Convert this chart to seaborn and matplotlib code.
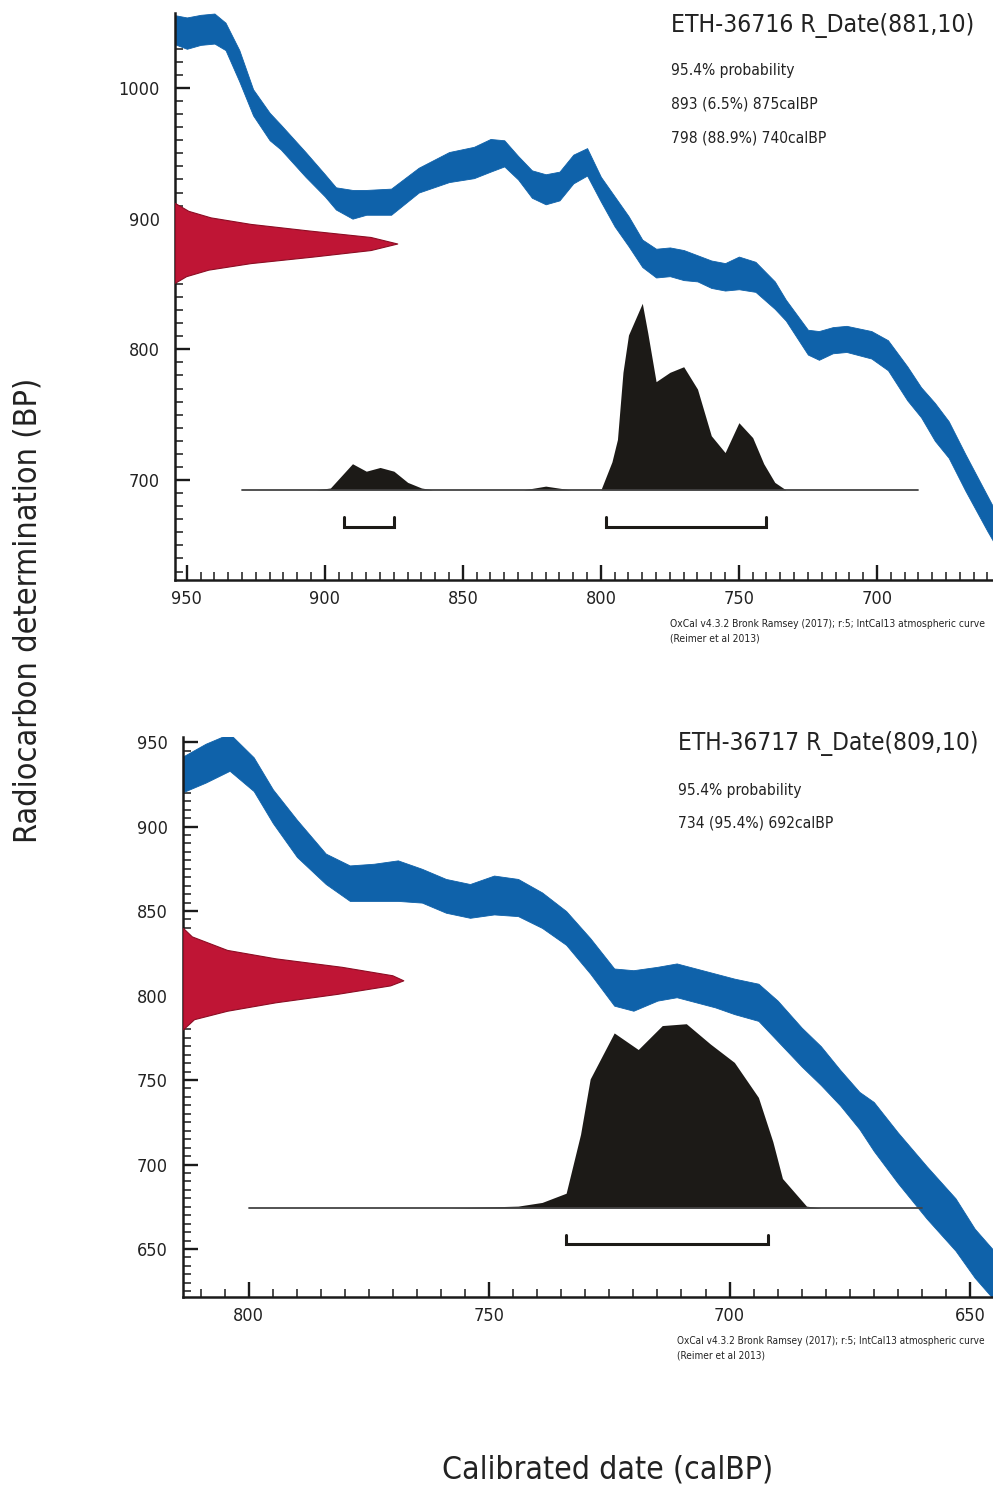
import numpy as np
import pandas as pd
import seaborn as sns
from matplotlib import pyplot as plt
from matplotlib import font_manager
from matplotlib.ticker import MultipleLocator

# ---- ETH-36716 (top panel) ----
top_cal = [955, 950, 945, 940, 936, 931, 926, 920, 916, 907,
           900, 896, 890, 885, 876, 866, 855, 846, 840, 835,
           830, 825, 820, 815, 810, 805, 800, 795, 790, 785,
           780, 775, 770, 765, 760, 755, 750, 744, 737, 733,
           725, 721, 716, 711, 702, 696, 689, 684, 679, 674,
           668, 660, 657]
top_upper = [1056, 1054, 1056, 1057, 1050, 1029, 999, 981, 972, 951,
             934, 924, 922, 922, 923, 939, 951, 955, 961, 960,
             948, 937, 934, 936, 949, 954, 932, 917, 902, 884,
             877, 878, 876, 872, 868, 866, 871, 867, 852, 838,
             815, 814, 817, 818, 814, 807, 787, 771, 759, 745,
             720, 688, 676]
top_lower = [1034, 1030, 1033, 1034, 1029, 1005, 979, 960, 953, 932,
             917, 907, 900, 903, 903, 920, 928, 931, 936, 940,
             930, 916, 911, 914, 927, 933, 913, 894, 879, 863,
             855, 856, 853, 852, 847, 845, 846, 844, 831, 822,
             796, 792, 797, 798, 793, 784, 761, 748, 730, 717,
             692, 661, 650]

top_r_bp = [912, 906, 901, 896, 891, 886, 881, 876, 871, 866, 861, 856, 851]
top_r_rel = [0, 6, 16, 34, 60, 88, 100, 88, 62, 34, 15, 5, 0]

top_p_cal = [930, 903, 898, 890, 885, 880, 875, 870, 865, 861,
             828, 820, 811, 800, 796, 794, 792, 790, 785, 783,
             780, 775, 770, 765, 760, 755, 750, 745, 741, 737,
             733, 685]
top_p_rel = [0, 0, 1, 14, 10, 12, 10, 4, 1, 0,
             0, 2, 0, 0, 15, 27, 63, 83, 100, 84,
             58, 63, 66, 54, 29, 20, 36, 28, 14, 4,
             0, 0]

top_ranges = [(893, 875), (798, 740)]
top_title = "ETH-36716 R_Date(881,10)"
top_info = ["95.4% probability", "893 (6.5%) 875calBP", "798 (88.9%) 740calBP"]

# ---- ETH-36717 (bottom panel) ----
bot_cal = [814, 809, 804, 799, 795, 790, 784, 779, 774, 769,
           764, 759, 754, 749, 744, 739, 734, 729, 724, 720,
           715, 711, 707, 703, 699, 694, 690, 685, 681, 677,
           673, 670, 665, 659, 653, 649, 645]
bot_upper = [941, 949, 955, 941, 922, 904, 884, 877, 878, 880,
             875, 869, 866, 871, 869, 861, 850, 834, 816, 815,
             817, 819, 816, 813, 810, 807, 797, 781, 770, 756,
             743, 737, 719, 699, 680, 662, 649]
bot_lower = [920, 926, 933, 921, 902, 882, 866, 856, 856, 856,
             855, 849, 846, 848, 847, 840, 830, 813, 794, 791,
             797, 799, 796, 793, 789, 785, 773, 758, 747, 735,
             721, 708, 689, 668, 649, 633, 620]

bot_r_bp = [840, 835, 827, 822, 817, 812, 809, 806, 801, 796, 791, 786, 780]
bot_r_rel = [0, 4, 20, 42, 72, 95, 100, 94, 70, 42, 20, 5, 0]

bot_p_cal = [800, 758, 744, 739, 734, 731, 729, 724, 719, 714,
             709, 704, 699, 694, 691, 689, 684, 681, 660]
bot_p_rel = [0, 0, 1, 3, 8, 40, 70, 95, 86, 99,
             100, 89, 79, 60, 36, 16, 1, 0, 0]

bot_ranges = [(734, 692)]
bot_title = "ETH-36717 R_Date(809,10)"
bot_info = ["95.4% probability", "734 (95.4%) 692calBP"]

credit = ["OxCal v4.3.2 Bronk Ramsey (2017); r:5; IntCal13 atmospheric curve",
          "(Reimer et al 2013)"]

BLUE = "#0f62aa"
RED = "#bf1535"
RED_EDGE = "#8c0d24"
DARK = "#1c1a17"

W, H = 993, 1490

sns.set_theme(style="ticks")
plt.rcParams['font.family'] = ['DejaVu Sans']
plt.rcParams['text.color'] = '#222222'


def weight_num(w):
    if isinstance(w, str):
        return font_manager.weight_dict.get(w, 400)
    return int(w)


def pick_font(target_weight):
    # a narrow sans face, closest to the wanted weight
    best, best_key = None, None
    for f in font_manager.fontManager.ttflist:
        fam = f.name.lower()
        path = f.fname.lower()
        if f.style != "normal" or "serif" in fam or "mono" in fam or "cjk" in fam:
            continue
        if "narrow" in fam or "narrow" in path:
            st = 0
        elif f.stretch == "condensed" or ("condensed" in path and "semi" not in path
                                          and "extra" not in path and "ultra" not in path):
            st = 0
        elif f.stretch == "semi-condensed" or "semicondensed" in path:
            st = 1
        else:
            continue
        key = (abs(weight_num(f.weight) - target_weight), st)
        if best_key is None or key < best_key:
            best, best_key = f.fname, key
    return best


FONT_REG = pick_font(400)


def fp(size):
    if FONT_REG:
        return font_manager.FontProperties(fname=FONT_REG, size=size)
    return font_manager.FontProperties(family="DejaVu Sans", size=size)


def box(left, top, right, bottom):
    return [left / W, 1 - bottom / H, (right - left) / W, (bottom - top) / H]


def fx(x):
    return x / W


def fy(y):
    return 1 - y / H


def draw_panel(ax, cal, upper, lower, r_bp, r_rel, p_cal, p_rel, ranges,
               xlim, ylim, ymajor, yminor):
    xspan = xlim[0] - xlim[1]
    yspan = ylim[1] - ylim[0]

    # calibration curve band
    ax.fill_between(cal, lower, upper, color=BLUE, lw=0.6, edgecolor=BLUE,
                    zorder=2)

    # radiocarbon likelihood on the y axis
    width = np.array(r_rel) / 100 * 0.272 * xspan
    ax.fill_betweenx(r_bp, xlim[0], xlim[0] - width, color=RED,
                     edgecolor=RED_EDGE, lw=0.8, zorder=3)

    # calibrated probability
    base = ylim[0] + 0.159 * yspan
    height = np.array(p_rel) / 100 * 0.329 * yspan
    ax.fill_between(p_cal, base, base + height, color=DARK, lw=0, zorder=4)
    line = pd.DataFrame({"cal": [p_cal[0], p_cal[-1]], "bp": [base, base]})
    sns.lineplot(data=line, x="cal", y="bp", ax=ax, color="#444444",
                 lw=1.3, zorder=4)

    # 95.4% range brackets
    yb = base - 0.065 * yspan
    tick = 0.017 * yspan
    for a, b in ranges:
        ax.plot([a, a, b, b], [yb + tick, yb, yb, yb + tick],
                color=DARK, lw=2.2, solid_joinstyle="miter", zorder=4)

    ax.set_xlim(*xlim)
    ax.set_ylim(*ylim)
    ax.xaxis.set_major_locator(MultipleLocator(50))
    ax.xaxis.set_minor_locator(MultipleLocator(5))
    ax.yaxis.set_major_locator(MultipleLocator(ymajor))
    ax.yaxis.set_minor_locator(MultipleLocator(yminor))
    ax.tick_params(which="major", direction="in", length=10.5, width=1.7,
                   color="#1a1a1a", labelcolor="#222222")
    ax.tick_params(which="minor", direction="in", length=5.5, width=1.1,
                   color="#1a1a1a")
    ax.tick_params(axis="y", which="major", pad=11)
    ax.tick_params(axis="x", which="major", pad=7)
    for lab in ax.get_xticklabels() + ax.get_yticklabels():
        lab.set_fontproperties(fp(13))
    ax.set_xlabel("")
    ax.set_ylabel("")
    sns.despine(ax=ax)
    for side in ("left", "bottom"):
        ax.spines[side].set_linewidth(1.8)
        ax.spines[side].set_color("#1a1a1a")
    ax.set_facecolor("white")


fig = plt.figure(figsize=(W / 100, H / 100), dpi=100)

ax1 = fig.add_axes(box(175, 13, 992, 580))
draw_panel(ax1, top_cal, top_upper, top_lower, top_r_bp, top_r_rel,
           top_p_cal, top_p_rel, top_ranges,
           (954.3, 658.3), (623.5, 1057.4), 100, 10)

ax2 = fig.add_axes(box(183, 737, 993, 1297))
draw_panel(ax2, bot_cal, bot_upper, bot_lower, bot_r_bp, bot_r_rel,
           bot_p_cal, bot_p_rel, bot_ranges,
           (813.7, 645.2), (621.6, 953), 50, 5)


def fitted(texts, target_px):
    # scale a group of texts so the widest one spans target_px
    renderer = fig.canvas.get_renderer()
    widest = 0
    for t in texts:
        ext = t.get_window_extent(renderer)
        widest = max(widest, ext.height if t.get_rotation() == 90 else ext.width)
    for t in texts:
        t.set_fontsize(t.get_fontsize() * target_px / widest)


def label(x, y, s, **kw):
    return fig.text(fx(x), fy(y), s, fontproperties=fp(12), va="center",
                    ha=kw.pop("ha", "left"), **kw)


# panel annotations
fitted([label(671, 25, top_title)], 302)
fitted([label(671, 70 + 34 * i, s) for i, s in enumerate(top_info)], 155)
fitted([label(670, 624, credit[0]), label(670, 639, credit[1])], 314)

fitted([label(678, 743, bot_title)], 300)
fitted([label(678, 790 + 33 * i, s) for i, s in enumerate(bot_info)], 154)
fitted([label(677, 1341, credit[0]), label(677, 1356, credit[1])], 308)

fitted([label(28, 610, "Radiocarbon determination (BP)", rotation=90, ha="center")], 465)
fitted([label(608, 1470, "Calibrated date (calBP)", ha="center")], 330)

fig.savefig("out.png", dpi=100, facecolor="white")
